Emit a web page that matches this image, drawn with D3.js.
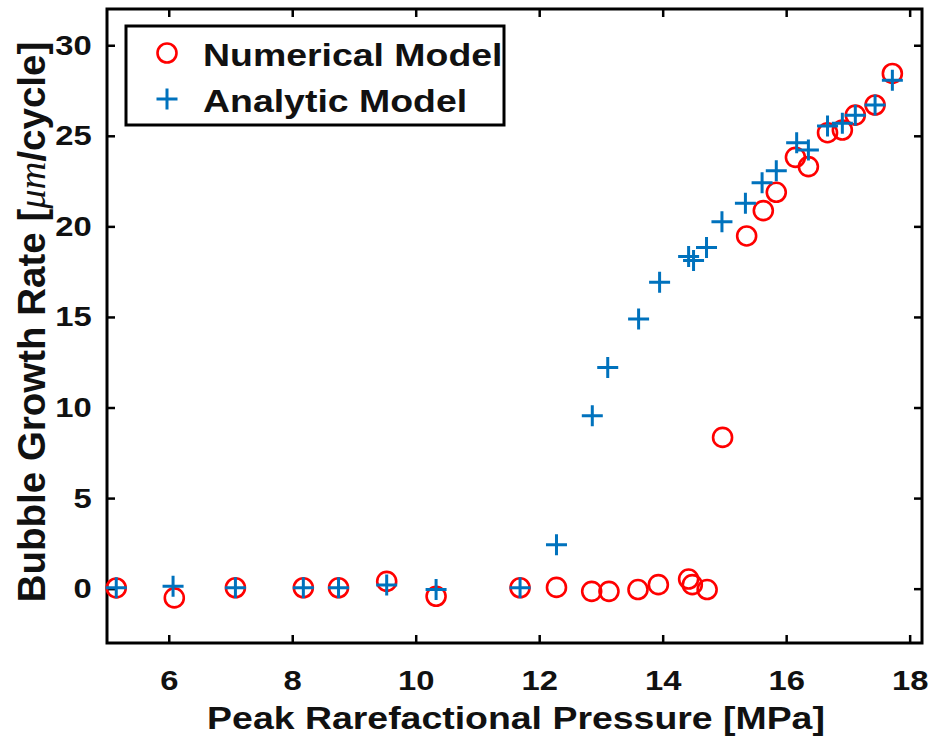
<!DOCTYPE html>
<html>
<head>
<meta charset="utf-8">
<script src="https://cdn.jsdelivr.net/npm/d3@7"></script>
<style>
  body { margin: 0; background: #fff; }
  svg text { font-family: "Liberation Sans", Arial, sans-serif; font-weight: bold; }
</style>
</head>
<body>
<div id="chart-area"></div>
<script>
// Peak rarefactional pressure [MPa] and growth rate [um/cycle]
let numPressure = [5.15, 6.09, 7.08, 8.18, 8.75, 9.53, 10.33, 11.69, 12.28, 12.85, 13.13, 13.6, 13.93,
    14.42, 14.48, 14.72, 14.97, 15.36, 15.63, 15.84, 16.15, 16.36, 16.67, 16.91, 17.12, 17.44, 17.72];
let numRate = [0.04, -0.51, 0.05, 0.05, 0.05, 0.4, -0.42, 0.05, 0.07, -0.15, -0.15, -0.05, 0.22,
    0.53, 0.22, -0.05, 8.35, 19.47, 20.87, 21.88, 23.81, 23.3, 25.17, 25.32, 26.14, 26.7, 28.44];

let anaPressure = [5.15, 6.07, 7.08, 8.18, 8.75, 9.53, 10.33, 11.69, 12.28, 12.86, 13.11, 13.61, 13.95,
    14.42, 14.5, 14.71, 14.96, 15.34, 15.61, 15.84, 16.17, 16.36, 16.67, 16.91, 17.12, 17.44, 17.72];
let anaRate = [0.05, 0.13, 0.05, 0.05, 0.05, 0.2, -0.05, 0.05, 2.43, 9.54, 12.21, 14.89, 16.92,
    18.33, 18.11, 18.84, 20.26, 21.27, 22.41, 23.07, 24.62, 24.21, 25.54, 25.69, 26.14, 26.7, 28.07];

let xTicks = [6, 8, 10, 12, 14, 16, 18];
let yTicks = [0, 5, 10, 15, 20, 25, 30];
let seriesNames = ["Numerical Model", "Analytic Model"];

// the source picture is a bit wider than tall, so text is stretched sideways
let sx = 1.17;

let margin = { left: 107, right: 12, top: 9, bottom: 110 };
let width = 934 - margin.left - margin.right,
    height = 753 - margin.top - margin.bottom;

let svg = d3.select("#chart-area")
    .append("svg")
    .attr("width", 934)
    .attr("height", 753);

let g = svg.append("g")
    .attr("transform", "translate(" + margin.left + ", " + margin.top + ")");

let x = d3.scaleLinear().domain([5, 18.2]).range([0, width]);
let y = d3.scaleLinear().domain([-3, 32]).range([height, 0]);

let numData = numPressure.map(function(p, i) { return { p: p, r: numRate[i] }; });
let anaData = anaPressure.map(function(p, i) { return { p: p, r: anaRate[i] }; });

// Axes (ticks inward on all four sides, like a boxed plot)
function styleAxis(sel) {
    sel.select(".domain").remove();
    sel.selectAll(".tick line").attr("stroke", "#000").attr("stroke-width", 2.5);
    sel.selectAll("text")
        .attr("fill", "#111")
        .attr("font-size", "28px")
        .attr("transform", "scale(" + sx + ",1)");
}

g.append("g")
    .attr("class", "x axis")
    .attr("transform", "translate(0," + height + ")")
    .call(d3.axisBottom(x).tickValues(xTicks).tickSize(-8).tickPadding(27))
    .call(styleAxis);

g.append("g")
    .attr("class", "x axis top")
    .call(d3.axisTop(x).tickValues(xTicks).tickSize(-8).tickFormat(""))
    .call(styleAxis);

g.append("g")
    .attr("class", "y axis")
    .call(d3.axisLeft(y).tickValues(yTicks).tickSize(-8).tickPadding(13))
    .call(styleAxis);

g.append("g")
    .attr("class", "y axis right")
    .attr("transform", "translate(" + width + ",0)")
    .call(d3.axisRight(y).tickValues(yTicks).tickSize(-8).tickFormat(""))
    .call(styleAxis);

// Box
g.append("rect")
    .attr("width", width)
    .attr("height", height)
    .attr("fill", "none")
    .attr("stroke", "#000")
    .attr("stroke-width", 3);

// Numerical model circles
g.selectAll("circle.num")
    .data(numData)
    .enter()
    .append("circle")
    .attr("class", "num")
    .attr("cx", function(d) { return x(d.p); })
    .attr("cy", function(d) { return y(d.r); })
    .attr("r", 9.5)
    .attr("fill", "none")
    .attr("stroke", "#ff0000")
    .attr("stroke-width", 2.6);

// Analytic model plus signs
let plus = "M-10.5,0H10.5M0,-10.5V10.5";
g.selectAll("path.ana")
    .data(anaData)
    .enter()
    .append("path")
    .attr("class", "ana")
    .attr("transform", function(d) { return "translate(" + x(d.p) + "," + y(d.r) + ")"; })
    .attr("d", plus)
    .attr("fill", "none")
    .attr("stroke", "#0072BD")
    .attr("stroke-width", 3);

// Legend
let legend = svg.append("g").attr("transform", "translate(126, 26)");
legend.append("rect")
    .attr("width", 378)
    .attr("height", 99)
    .attr("fill", "#fff")
    .attr("stroke", "#000")
    .attr("stroke-width", 3);
legend.append("circle")
    .attr("cx", 41).attr("cy", 27).attr("r", 9.5)
    .attr("fill", "none").attr("stroke", "#ff0000").attr("stroke-width", 2.6);
legend.append("path")
    .attr("transform", "translate(41, 73)")
    .attr("d", plus)
    .attr("fill", "none").attr("stroke", "#0072BD").attr("stroke-width", 3);
legend.selectAll("text.leg")
    .data(seriesNames)
    .enter()
    .append("text")
    .attr("class", "leg")
    .attr("transform", function(d, i) { return "translate(77," + (40 + i * 46) + ") scale(" + sx + ",1)"; })
    .attr("font-size", "32px")
    .attr("fill", "#111")
    .text(function(d) { return d; });

// X Label
svg.append("text")
    .attr("transform", "translate(516, 729) scale(" + sx + ",1)")
    .attr("font-size", "32px")
    .attr("text-anchor", "middle")
    .attr("fill", "#111")
    .text("Peak Rarefactional Pressure [MPa]");

// Y Label
let yLabel = svg.append("text")
    .attr("transform", "translate(45, 322) rotate(-90)")
    .attr("font-size", "38.5px")
    .attr("text-anchor", "middle")
    .attr("fill", "#111");
yLabel.append("tspan").text("Bubble Growth Rate [");
yLabel.append("tspan")
    .attr("font-family", "'Liberation Serif', 'DejaVu Serif', serif")
    .attr("font-style", "italic")
    .attr("font-weight", "normal")
    .text("\u03bcm");
yLabel.append("tspan").text("/cycle]");
</script>
</body>
</html>
